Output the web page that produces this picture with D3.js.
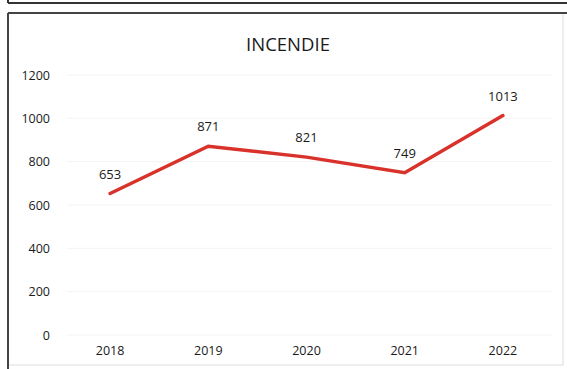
<!DOCTYPE html>
<html><head><meta charset="utf-8">
<script src="https://cdn.jsdelivr.net/npm/d3@7"></script>
<style>body{margin:0;background:#fff}svg{display:block}</style>
</head><body>
<script>
const categories = ["2018","2019","2020","2021","2022"];
const values = [653, 871, 821, 749, 1013];
const yTicks = [0, 200, 400, 600, 800, 1000, 1200];
const title = "INCENDIE";

const W = 567, H = 369;
const svg = d3.select("body").append("svg").attr("width", W).attr("height", H);
const font = "'Open Sans', 'Noto Sans', sans-serif";

// outer frames
svg.append("line").attr("x1", 8).attr("x2", W).attr("y1", 3).attr("y2", 3).attr("stroke", "#333").attr("stroke-width", 2);
svg.append("line").attr("x1", 8).attr("x2", 8).attr("y1", 0).attr("y2", 3).attr("stroke", "#333").attr("stroke-width", 2);
svg.append("rect").attr("x", 8).attr("y", 13).attr("width", 555).attr("height", 352)
  .attr("fill", "none").attr("stroke", "#ddd").attr("stroke-width", 1);
svg.append("line").attr("x1", 8).attr("x2", W).attr("y1", 13).attr("y2", 13).attr("stroke", "#444").attr("stroke-width", 2);
svg.append("line").attr("x1", 8).attr("x2", 8).attr("y1", 13).attr("y2", H).attr("stroke", "#444").attr("stroke-width", 2);

const x = d3.scaleBand().domain(categories).range([61, 552]).padding(0);
const y = d3.scaleLinear().domain([0, 1200]).range([335, 75]);

// gridlines
svg.append("g").selectAll("line").data(yTicks).join("line")
  .attr("x1", 67).attr("x2", 552)
  .attr("y1", d => y(d)).attr("y2", d => y(d))
  .attr("stroke", "#f4f4f4").attr("stroke-width", 1);

// y axis
const yAxis = svg.append("g").attr("transform", "translate(50,0)")
  .call(d3.axisLeft(y).tickValues(yTicks).tickFormat(d3.format("d")).tickSize(0).tickPadding(0));
yAxis.select(".domain").remove();
yAxis.selectAll("text").attr("font-family", font).attr("font-size", 12.5).attr("fill", "#1a1a1a");

// x axis
const xAxis = svg.append("g").attr("transform", "translate(0,346)")
  .call(d3.axisBottom(x).tickSize(0).tickPadding(0));
xAxis.select(".domain").remove();
xAxis.selectAll("text").attr("font-family", font).attr("font-size", 12.5).attr("fill", "#1a1a1a");

// title
svg.append("text").attr("x", 288).attr("y", 51).attr("text-anchor", "middle")
  .attr("font-family", font).attr("font-size", 18.5).attr("fill", "#1a1a1a").text(title);

// line
const line = d3.line().x((d, i) => x(categories[i]) + x.bandwidth() / 2).y(d => y(d));
svg.append("path").datum(values).attr("d", line)
  .attr("fill", "none").attr("stroke", "#d8322b").attr("stroke-width", 3.5)
  .attr("stroke-linejoin", "miter").attr("stroke-linecap", "round");

// data labels
svg.append("g").selectAll("text").data(values).join("text")
  .attr("x", (d, i) => x(categories[i]) + x.bandwidth() / 2)
  .attr("y", d => y(d) - 15)
  .attr("text-anchor", "middle")
  .attr("font-family", font).attr("font-size", 13).attr("fill", "#1a1a1a")
  .text(d => d);
</script>
</body></html>
